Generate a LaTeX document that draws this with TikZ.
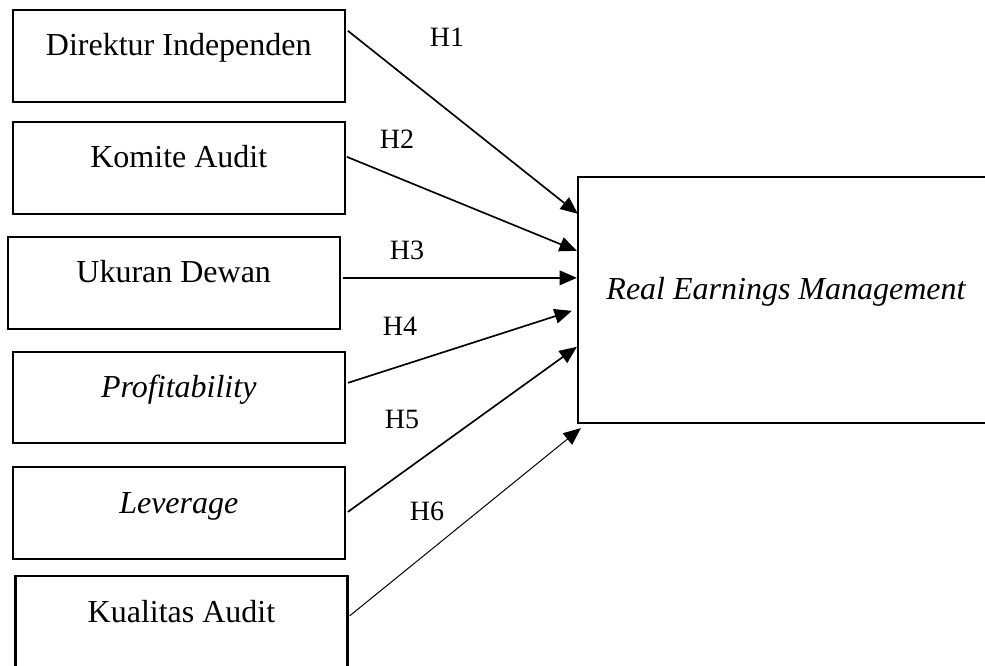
\documentclass[tikz,border=0pt]{standalone}
\usepackage{fontspec}
\setmainfont{Liberation Serif}
\usetikzlibrary{arrows.meta,calc}
\begin{document}
\begin{tikzpicture}[x=0.75pt,y=-0.75pt,
  varbox/.style={draw=black,line width=1.7pt,rectangle,minimum width=249pt,minimum height=69pt,inner sep=0pt},
  vartext/.style={anchor=base,font=\fontsize{24}{28}\selectfont,inner sep=0pt},
  hlabel/.style={anchor=base,font=\fontsize{21}{25}\selectfont,inner sep=0pt},
  link/.style={line width=1.25pt,-{Triangle[length=13pt,width=11pt]}},
  thinlink/.style={line width=0.75pt,-{Triangle[length=13pt,width=11pt]}}]
\useasboundingbox (0,0) rectangle (985,666);
\clip (0,0) rectangle (985,666);
% boxes
\node[varbox] (b1) at (178.8,56) {};
\node[varbox] (b2) at (178.8,168) {};
\node[varbox] (b3) at (173.7,283) {};
\node[varbox,minimum height=68.25pt] (b4) at (178.8,397.5) {};
\node[varbox] (b5) at (178.8,513) {};
\node[varbox] (b6) at (181.5,622) {};
\node[draw=black,line width=1.7pt,rectangle,minimum width=316.5pt,minimum height=184.5pt,inner sep=0pt] (R) at (789,300) {};
% texts
\node[vartext] (t1) at (b1.center) {Direktur Independen};
\node[vartext] (t2) at (b2.center) {Komite Audit};
\node[vartext] (t3) at (b3.center) {Ukuran Dewan};
\node[vartext] (t4) at (b4.center) {\itshape Profitability};
\node[vartext] (t5) at (b5.center) {\itshape Leverage};
\node[vartext] (t6) at (b6.center) {Kualitas Audit};
\node[vartext] (tR) at (786,300) {\itshape Real Earnings Management};
% connectors
\draw[link] ($(b1.north east)+(2,22)$) -- ($(R.north west)+(1,38)$);
\draw[link] ($(b2.north east)+(1,36)$) -- ($(R.north west)+(0,75)$);
\draw[link] ($(b3.north east)+(2,42)$) -- ($(R.north west)+(0,102)$);
\draw[link] ($(b4.north east)+(2,32)$) -- ($(R.north west)+(-5,135)$);
\draw[link] ($(b5.north east)+(2,46)$) -- ($(R.north west)+(0,171)$);
\draw[thinlink] ($(b6.north east)+(1,41)$) -- ($(R.south west)+(4,4)$);
% labels
\node[hlabel] (h1) at (447,47) {H1};
\node[hlabel] (h2) at (397,149) {H2};
\node[hlabel] (h3) at (407,260) {H3};
\node[hlabel] (h4) at (400,336) {H4};
\node[hlabel] (h5) at (402,428) {H5};
\node[hlabel] (h6) at (427,520) {H6};
\end{tikzpicture}
\end{document}
